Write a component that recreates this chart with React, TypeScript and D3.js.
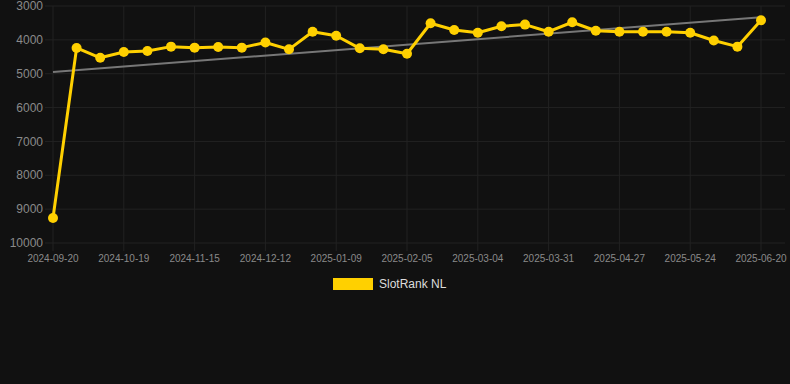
import React from "react";
import * as d3 from "d3";

const dates = [
  "2024-09-20", "2024-09-30", "2024-10-10", "2024-10-19", "2024-10-28", "2024-11-06",
  "2024-11-15", "2024-11-24", "2024-12-03", "2024-12-12", "2024-12-21", "2024-12-31",
  "2025-01-09", "2025-01-18", "2025-01-27", "2025-02-05", "2025-02-14", "2025-02-23",
  "2025-03-04", "2025-03-13", "2025-03-22", "2025-03-31", "2025-04-09", "2025-04-18",
  "2025-04-27", "2025-05-06", "2025-05-15", "2025-05-24", "2025-06-02", "2025-06-11",
  "2025-06-20",
];

const ranks = [
  9260, 4240, 4530, 4360, 4330, 4200, 4230, 4210, 4230, 4080, 4280, 3760,
  3880, 4250, 4280, 4410, 3510, 3710, 3790, 3600, 3550, 3760, 3480, 3730,
  3760, 3760, 3760, 3790, 4020, 4200, 3420,
];

const yTicks = [3000, 4000, 5000, 6000, 7000, 8000, 9000, 10000];
const seriesName = "SlotRank NL";

const W = 790;
const H = 384;

export default function App() {
  if (typeof document !== "undefined") {
    document.body.style.margin = "0";
    document.body.style.background = "#111111";
  }
  const x = d3.scalePoint<string>().domain(dates).range([53, 761]);
  const y = d3.scaleLinear().domain([3000, 10000]).range([6, 243]);

  // linear regression trend
  const n = ranks.length;
  const idx = d3.range(n);
  const mx = d3.mean(idx) as number;
  const my = d3.mean(ranks) as number;
  let num = 0, den = 0;
  idx.forEach((i) => {
    num += (i - mx) * (ranks[i] - my);
    den += (i - mx) * (i - mx);
  });
  const slope = num / den;
  const intercept = my - slope * mx;
  const trend = [0, n - 1].map((i) => ({ d: dates[i], v: intercept + slope * i }));

  const line = d3
    .line<number>()
    .x((_, i) => x(dates[i]) as number)
    .y((v) => y(v));
  const tline = d3
    .line<{ d: string; v: number }>()
    .x((p) => x(p.d) as number)
    .y((p) => y(p.v));

  const xLabels = dates.filter((_, i) => i % 3 === 0);

  return (
    <svg width={W} height={H} style={{ display: "block", background: "#111111" }}>
      <rect x={0} y={0} width={W} height={H} fill="#111111" />
      {yTicks.map((t) => (
        <g key={t}>
          <line x1={45} x2={785} y1={y(t)} y2={y(t)} stroke="#222222" strokeWidth={1} />
          <text
            x={43}
            y={y(t)}
            dy="0.35em"
            textAnchor="end"
            fontFamily="Arial, 'Liberation Sans', sans-serif"
            fontSize={12}
            fill="#8a8a8a"
          >
            {t}
          </text>
        </g>
      ))}
      {xLabels.map((d) => (
        <g key={d}>
          <line x1={x(d)} x2={x(d)} y1={6} y2={251} stroke="#222222" strokeWidth={1} />
          <text
            x={x(d)}
            y={262}
            textAnchor="middle"
            fontFamily="Arial, 'Liberation Sans', sans-serif"
            fontSize={10}
            fill="#8a8a8a"
          >
            {d}
          </text>
        </g>
      ))}
      <path d={tline(trend) as string} fill="none" stroke="#777777" strokeWidth={2} />
      <path d={line(ranks) as string} fill="none" stroke="#FFD000" strokeWidth={3} strokeLinejoin="round" />
      {ranks.map((v, i) => (
        <circle key={i} cx={x(dates[i]) as number} cy={y(v)} r={5} fill="#FFD000" />
      ))}
      <rect x={333} y={278} width={40} height={12} fill="#FFD000" />
      <text
        x={379}
        y={288}
        fontFamily="Arial, 'Liberation Sans', sans-serif"
        fontSize={12}
        fill="#dddddd"
      >
        {seriesName}
      </text>
    </svg>
  );
}
